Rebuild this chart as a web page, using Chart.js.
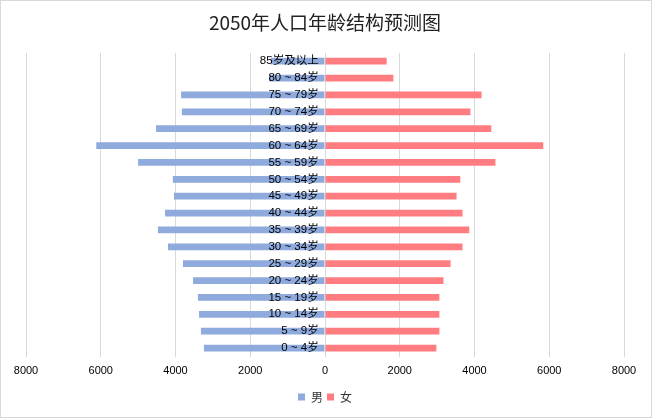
<!DOCTYPE html>
<html>
<head>
<meta charset="utf-8">
<script src="https://cdn.jsdelivr.net/npm/chart.js@4/dist/chart.umd.min.js"></script>
<style>
html,body{margin:0;padding:0;background:#fff;}
canvas{display:block;}
</style>
</head>
<body>
<canvas id="c" width="652" height="418"></canvas>
<script>
const titleText = '2050年人口年龄结构预测图';
const ageGroups = ['0 ~ 4岁','5 ~ 9岁','10 ~ 14岁','15 ~ 19岁','20 ~ 24岁','25 ~ 29岁','30 ~ 34岁','35 ~ 39岁','40 ~ 44岁','45 ~ 49岁','50 ~ 54岁','55 ~ 59岁','60 ~ 64岁','65 ~ 69岁','70 ~ 74岁','75 ~ 79岁','80 ~ 84岁','85岁及以上'];
const maleValues = [3240,3320,3370,3400,3530,3800,4200,4470,4280,4040,4070,5000,6120,4520,3830,3850,1500,1450];
const femaleValues = [2980,3060,3060,3060,3170,3360,3680,3860,3680,3520,3620,4560,5840,4450,3890,4190,1830,1650];
const seriesNames = ['男','女'];
const axisTicks = [-8000,-6000,-4000,-2000,0,2000,4000,6000,8000];

const borderPlugin = {
  id: 'outerBorder',
  afterDraw(chart) {
    const ctx = chart.ctx;
    ctx.save();
    ctx.strokeStyle = '#d9d9d9';
    ctx.lineWidth = 1;
    ctx.strokeRect(0.5, 0.5, chart.width - 1, chart.height - 1);
    ctx.restore();
  }
};
const bgPlugin = {
  id: 'bg',
  beforeDraw(chart) {
    const ctx = chart.ctx;
    ctx.save();
    ctx.fillStyle = '#fff';
    ctx.fillRect(0, 0, chart.width, chart.height);
    ctx.restore();
  }
};

new Chart(document.getElementById('c'), {
  type: 'bar',
  data: {
    labels: ageGroups,
    datasets: [
      { label: seriesNames[0], data: maleValues.map(v => -v), backgroundColor: '#8faadc', borderWidth: 0 },
      { label: seriesNames[1], data: femaleValues, backgroundColor: '#ff7c80', borderWidth: 0 }
    ]
  },
  options: {
    indexAxis: 'y',
    responsive: false,
    animation: false,
    events: [],
    categoryPercentage: 1,
    barPercentage: 0.4,
    layout: { padding: { top: 10, bottom: 5, left: 26, right: 28 } },
    scales: {
      x: {
        stacked: true,
        min: -8000, max: 8000,
        afterBuildTicks: s => { s.ticks = axisTicks.map(v => ({ value: v })); },
        afterFit: s => { s.height = 30.5; },
        grid: { color: '#d9d9d9', drawTicks: false, lineWidth: 1 },
        border: { display: false },
        ticks: {
          padding: 8,
          color: '#000',
          font: { family: "'Liberation Sans','Noto Sans CJK SC'", size: 11 },
          callback: v => String(Math.abs(v)),
          maxRotation: 0
        }
      },
      y: {
        stacked: true,
        reverse: true,
        position: { x: -170 },
        grid: { display: false, drawTicks: false },
        border: { display: false },
        ticks: {
          z: 1,
          padding: 0,
          autoSkip: false,
          color: '#000',
          font: { family: "'Liberation Sans','Noto Sans CJK SC'", size: 11.5 }
        }
      }
    },
    plugins: {
      title: {
        display: true,
        text: titleText,
        color: '#222',
        font: { family: "'Noto Sans CJK SC'", size: 19, weight: 'normal' },
        padding: { top: 1, bottom: 19 }
      },
      legend: {
        position: 'bottom',
        labels: {
          boxWidth: 7, boxHeight: 7,
          padding: 4,
          color: '#333',
          font: { family: "'Noto Sans CJK SC'", size: 12 }
        }
      },
      tooltip: { enabled: false }
    }
  },
  plugins: [bgPlugin, borderPlugin]
});
</script>
</body>
</html>
